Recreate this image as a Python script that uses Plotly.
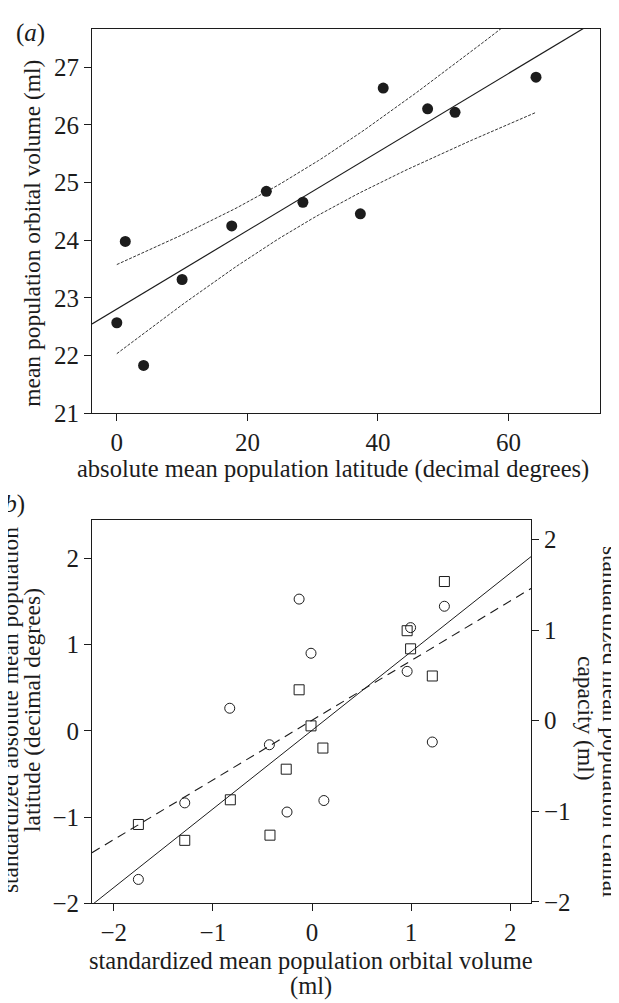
import numpy as np
import plotly.graph_objects as go

W, H = 619, 1003

# ---------------- data: panel (a) ----------------
latitude_a = [0.0, 1.3, 4.1, 10.0, 17.6, 22.9, 28.5, 37.3, 40.8, 47.6, 51.8, 64.2]
orbital_a = [22.57, 23.98, 21.83, 23.32, 24.25, 24.85, 24.66, 24.46, 26.64, 26.28, 26.22, 26.83]
xticks_a = [0, 20, 40, 60]
yticks_a = [21, 22, 23, 24, 25, 26, 27]

# ---------------- data: panel (b) ----------------
# squares: standardized latitude (left axis)
sq_x = [-1.752, -1.284, -0.824, -0.424, -0.26, -0.13, -0.01, 0.11, 0.96, 0.995, 1.214, 1.336]
sq_y = [-1.086, -1.27, -0.80, -1.21, -0.445, 0.475, 0.057, -0.20, 1.16, 0.95, 0.635, 1.73]
# circles: standardized cranial capacity (right axis)
ci_x = [-1.752, -1.284, -0.83, -0.43, -0.252, -0.13, -0.01, 0.12, 0.96, 0.995, 1.214, 1.336]
ci_y = [-1.753, -0.908, 0.137, -0.266, -1.009, 1.342, 0.744, -0.882, 0.544, 1.027, -0.236, 1.263]
xticks_b = [-2, -1, 0, 1, 2]
yticks_b = [-2, -1, 0, 1, 2]

T_CRIT = 2.228  # t(0.975, df=10)

XR_A = [-3.8, 74.0]
YR_A = [21.0, 27.67]
XR_B = [-2.22, 2.21]
YR_BL = [-2.0, 2.446]
YR_BR = [-2.017, 2.218]

INK = "#1c1c1c"
FONT = "Liberation Serif"


def px(x):
    return x / W


def py(y):
    return 1 - y / H


# regression for panel (a)
xa = np.array(latitude_a)
ya = np.array(orbital_a)
b1, b0 = np.polyfit(xa, ya, 1)
n = len(xa)
res = ya - (b0 + b1 * xa)
s = np.sqrt(np.sum(res ** 2) / (n - 2))
sxx = np.sum((xa - xa.mean()) ** 2)
xb = np.linspace(xa.min(), xa.max(), 80)
hw = T_CRIT * s * np.sqrt(1 / n + (xb - xa.mean()) ** 2 / sxx)
fit_b = b0 + b1 * xb

# regressions for panel (b)
s1, s0 = np.polyfit(sq_x, sq_y, 1)
c1, c0 = np.polyfit(ci_x, ci_y, 1)
xl = np.array(XR_B)

fig = go.Figure()

# panel a
fig.add_trace(go.Scatter(x=list(XR_A), y=list(b0 + b1 * np.array(XR_A)), mode="lines",
                         line=dict(color=INK, width=1.2), xaxis="x", yaxis="y", showlegend=False))
fig.add_trace(go.Scatter(x=xb, y=fit_b + hw, mode="lines",
                         line=dict(color=INK, width=0.9, dash="3px,1.5px"), xaxis="x", yaxis="y", showlegend=False))
fig.add_trace(go.Scatter(x=xb, y=fit_b - hw, mode="lines",
                         line=dict(color=INK, width=0.9, dash="3px,1.5px"), xaxis="x", yaxis="y", showlegend=False))
fig.add_trace(go.Scatter(x=latitude_a, y=orbital_a, mode="markers",
                         marker=dict(symbol="circle", size=11, color=INK, line=dict(width=0)),
                         xaxis="x", yaxis="y", showlegend=False))

# panel b
fig.add_trace(go.Scatter(x=xl, y=s0 + s1 * xl, mode="lines",
                         line=dict(color=INK, width=1), xaxis="x2", yaxis="y2", showlegend=False))
fig.add_trace(go.Scatter(x=xl, y=c0 + c1 * xl, mode="lines",
                         line=dict(color=INK, width=1.1, dash="9px,6px"), xaxis="x2", yaxis="y3", showlegend=False))
fig.add_trace(go.Scatter(x=sq_x, y=sq_y, mode="markers",
                         marker=dict(symbol="square-open", size=10, color=INK, line=dict(width=1)),
                         xaxis="x2", yaxis="y2", showlegend=False))
fig.add_trace(go.Scatter(x=ci_x, y=ci_y, mode="markers",
                         marker=dict(symbol="circle-open", size=10, color=INK, line=dict(width=1)),
                         xaxis="x2", yaxis="y3", showlegend=False))

tickfont = dict(family=FONT, size=25, color=INK)
common = dict(showgrid=False, zeroline=False, showline=True, linecolor=INK, linewidth=1,
              ticks="outside", ticklen=7, tickwidth=1, tickcolor=INK, tickfont=tickfont)

fig.update_layout(
    width=W, height=H,
    margin=dict(l=0, r=0, t=0, b=0),
    paper_bgcolor="white", plot_bgcolor="white",
    xaxis=dict(domain=[px(84), px(592)], range=XR_A, tickvals=xticks_a, anchor="y", mirror=True, **common),
    yaxis=dict(domain=[py(411), py(21)], range=YR_A, tickvals=yticks_a, anchor="x", mirror=True, **common),
    xaxis2=dict(domain=[px(84), px(523)], range=XR_B, tickvals=xticks_b, anchor="y2", mirror=True, **common),
    yaxis2=dict(domain=[py(908), py(519)], range=YR_BL, tickvals=yticks_b, anchor="x2", mirror=True, **common),
    yaxis3=dict(range=YR_BR, tickvals=yticks_b, anchor="x2", overlaying="y2", side="right", **common),
)

title_font = dict(family=FONT, size=24.5, color=INK)
vtitle_font = dict(family=FONT, size=23.5, color=INK)
ann = [
    dict(text="(<i>a</i>)", x=px(6), y=py(25), xanchor="left", yanchor="middle", font=dict(family=FONT, size=25, color=INK)),
    dict(text="(<i>b</i>)", x=px(-14), y=py(503), xanchor="left", yanchor="middle", font=dict(family=FONT, size=25, color=INK)),
    dict(text="mean population orbital volume (ml)", x=px(24), y=py(229), textangle=-90,
         xanchor="center", yanchor="middle", font=vtitle_font),
    dict(text="absolute mean population latitude (decimal degrees)", x=px(325), y=py(468),
         xanchor="center", yanchor="middle", font=title_font),
    dict(text="standardized absolute mean population", x=px(2), y=py(712), textangle=-90,
         xanchor="center", yanchor="middle", font=vtitle_font),
    dict(text="latitude (decimal degrees)", x=px(24), y=py(712), textangle=-90,
         xanchor="center", yanchor="middle", font=vtitle_font),
    dict(text="standardized mean population cranial", x=px(603), y=py(724), textangle=90,
         xanchor="center", yanchor="middle", font=vtitle_font),
    dict(text="capacity (ml)", x=px(578), y=py(720), textangle=90,
         xanchor="center", yanchor="middle", font=vtitle_font),
    dict(text="standardized mean population orbital volume", x=px(303), y=py(966),
         xanchor="center", yanchor="middle", font=title_font),
    dict(text="(ml)", x=px(303), y=py(992),
         xanchor="center", yanchor="middle", font=title_font),
]
for a in ann:
    a.update(xref="paper", yref="paper", showarrow=False)
fig.update_layout(annotations=ann)

fig.write_html("out.html")
